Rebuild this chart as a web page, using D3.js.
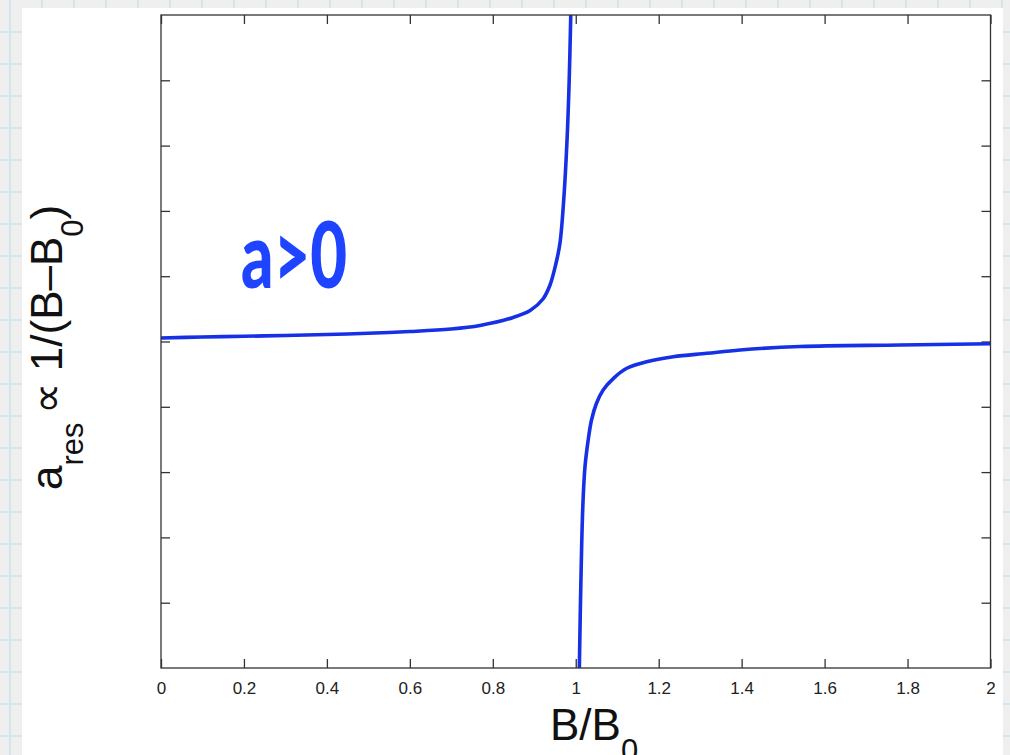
<!DOCTYPE html>
<html>
<head>
<meta charset="utf-8">
<script src="https://cdn.jsdelivr.net/npm/d3@7"></script>
<style>
  body { margin: 0; background: #efefef; }
  svg { display: block; }
</style>
</head>
<body>
<div id="chart"></div>
<script>
// curve, B/B0 vs a_res (arbitrary units)
var leftB  = [0, 0.099, 0.200, 0.299, 0.400, 0.499, 0.600, 0.699, 0.769, 0.849, 0.890, 0.921, 0.938, 0.952, 0.962, 0.971, 0.979, 0.984, 0.988, 0.990];
var leftA  = [0.054, 0.069, 0.080, 0.092, 0.107, 0.126, 0.153, 0.191, 0.245, 0.368, 0.475, 0.651, 0.865, 1.187, 1.509, 2.167, 3.086, 3.959, 5.0, 5.6];
var rightB = [1.007, 1.0086, 1.012, 1.017, 1.0223, 1.030, 1.038, 1.050, 1.066, 1.091, 1.123, 1.171, 1.235, 1.316, 1.396, 1.541, 1.782, 2.0];
var rightA = [-5.6, -5.03, -3.805, -2.53, -1.916, -1.508, -1.202, -0.946, -0.743, -0.564, -0.410, -0.309, -0.233, -0.181, -0.130, -0.077, -0.054, -0.035];

var xTicks = [0, 0.2, 0.4, 0.6, 0.8, 1, 1.2, 1.4, 1.6, 1.8, 2];
var xTickLabels = ["0", "0.2", "0.4", "0.6", "0.8", "1", "1.2", "1.4", "1.6", "1.8", "2"];
var yTicks = [-4, -3, -2, -1, 0, 1, 2, 3, 4];

var W = 1010, H = 755;
var margin = {top: 15, right: 19.5, bottom: 87, left: 161},
    width = W - margin.left - margin.right,
    height = H - margin.top - margin.bottom;

var svg = d3.select("#chart").append("svg")
    .attr("width", W)
    .attr("height", H);

// graph paper background
var bg = svg.append("g");
bg.append("rect").attr("width", W).attr("height", H).attr("fill", "#efefef");
for (var gx = 10; gx < W; gx += 32) {
    bg.append("line").attr("x1", gx).attr("x2", gx).attr("y1", 0).attr("y2", H)
      .attr("stroke", "#d3e6ee").attr("stroke-width", 2);
}
for (var gy = 32; gy < H; gy += 32) {
    bg.append("line").attr("y1", gy).attr("y2", gy).attr("x1", 0).attr("x2", W)
      .attr("stroke", "#d3e6ee").attr("stroke-width", 2);
}
// white sheet
svg.append("rect").attr("x", 22).attr("y", 8).attr("width", 981).attr("height", H - 8).attr("fill", "#ffffff");

var g = svg.append("g").attr("transform", "translate(" + margin.left + "," + margin.top + ")");

var x = d3.scaleLinear().domain([0, 2]).range([0, width]);
var y = d3.scaleLinear().domain([-5, 5]).range([height, 0]);

// axes, ticks pointing inward
var axisStyle = function(sel) {
    sel.select(".domain").remove();
    sel.selectAll(".tick line").attr("stroke", "#333").attr("stroke-width", 1.3);
    sel.selectAll(".tick text").attr("font-family", "Liberation Sans, Arial, sans-serif")
       .attr("font-size", "17px").attr("fill", "#222");
};

g.append("g").attr("transform", "translate(0," + height + ")")
  .call(d3.axisBottom(x).tickValues(xTicks).tickSizeInner(-9).tickSizeOuter(0).tickPadding(14)
        .tickFormat(function(d, i) { return xTickLabels[i]; }))
  .call(axisStyle);
g.append("g")
  .call(d3.axisTop(x).tickValues(xTicks).tickSizeInner(-9).tickSizeOuter(0).tickFormat(""))
  .call(axisStyle);
g.append("g")
  .call(d3.axisLeft(y).tickValues(yTicks).tickSizeInner(-9).tickSizeOuter(0).tickFormat(""))
  .call(axisStyle);
g.append("g").attr("transform", "translate(" + width + ",0)")
  .call(d3.axisRight(y).tickValues(yTicks).tickSizeInner(-9).tickSizeOuter(0).tickFormat(""))
  .call(axisStyle);

g.append("defs").append("clipPath").attr("id", "plotclip")
  .append("rect").attr("width", width).attr("height", height);

var line = d3.line()
    .x(function(d) { return x(d[0]); })
    .y(function(d) { return y(d[1]); })
    .curve(d3.curveCatmullRom.alpha(0.5));

var branches = [d3.zip(leftB, leftA), d3.zip(rightB, rightA)];
g.append("g").attr("clip-path", "url(#plotclip)")
  .selectAll("path").data(branches).enter().append("path")
  .attr("d", line)
  .attr("fill", "none")
  .attr("stroke", "#1630e6")
  .attr("stroke-width", 3.6)
  .attr("stroke-linejoin", "round");

// frame
g.append("rect").attr("width", width).attr("height", height)
  .attr("fill", "none").attr("stroke", "#333").attr("stroke-width", 1.3);

// annotation
g.append("text")
  .attr("x", 241 - margin.left)
  .attr("y", 288 - margin.top)
  .attr("font-family", "Lato, sans-serif")
  .attr("font-weight", "900")
  .attr("font-size", "92px")
  .attr("fill", "#1f44ff")
  .attr("textLength", 106)
  .attr("lengthAdjust", "spacingAndGlyphs")
  .text("a>0");

// x label
var xl = svg.append("text")
  .attr("x", 550).attr("y", 740)
  .attr("font-family", "Liberation Sans, Arial, sans-serif")
  .attr("font-size", "44px")
  .attr("fill", "#111");
xl.append("tspan").text("B/B");
xl.append("tspan").attr("font-size", "31px").attr("dy", 21).text("0");

// y label
var yl = svg.append("text")
  .attr("transform", "translate(62,490) rotate(-90)")
  .attr("font-family", "Liberation Sans, Arial, sans-serif")
  .attr("font-size", "44px")
  .attr("fill", "#111");
yl.append("tspan").text("a");
yl.append("tspan").attr("font-size", "31px").attr("dy", 21).text("res");
yl.append("tspan").attr("dy", -21).attr("dx", 8).text("\u221D 1/(B\u2013B");
yl.append("tspan").attr("font-size", "31px").attr("dy", 21).text("0");
yl.append("tspan").attr("dy", -21).text(")");
</script>
</body>
</html>
